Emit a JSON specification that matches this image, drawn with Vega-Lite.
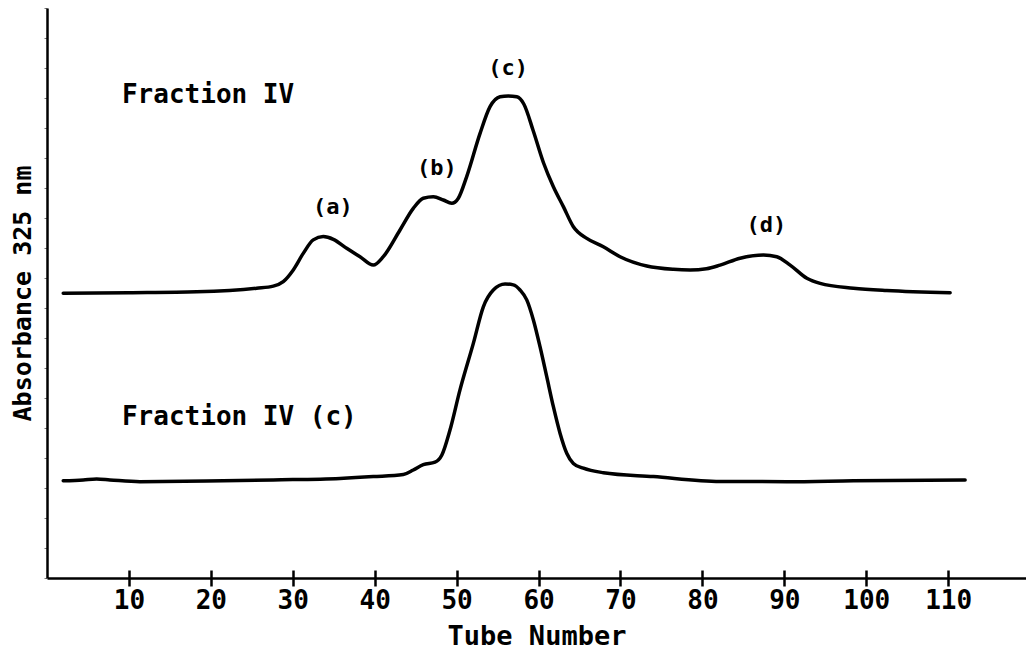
{
  "$schema": "https://vega.github.io/schema/vega-lite/v6.json",
  "width": 979,
  "height": 570,
  "autosize": {"type": "none"},
  "padding": {"left": 47, "top": 8, "right": 0, "bottom": 74},
  "background": "white",
  "config": {
    "view": {"stroke": null},
    "font": "DejaVu Sans Mono",
    "axis": {"grid": false, "domainColor": "black", "tickColor": "black", "labelColor": "black", "titleColor": "black"}
  },
  "datasets": {
    "curves": [
      {"sample": "Fraction IV", "tube": 1.98, "absorbance": 0.949},
      {"sample": "Fraction IV", "tube": 10, "absorbance": 0.951},
      {"sample": "Fraction IV", "tube": 18.27, "absorbance": 0.954},
      {"sample": "Fraction IV", "tube": 25.59, "absorbance": 0.966},
      {"sample": "Fraction IV", "tube": 27.62, "absorbance": 0.973},
      {"sample": "Fraction IV", "tube": 28.84, "absorbance": 0.988},
      {"sample": "Fraction IV", "tube": 30.06, "absorbance": 1.027},
      {"sample": "Fraction IV", "tube": 31.28, "absorbance": 1.082},
      {"sample": "Fraction IV", "tube": 32.5, "absorbance": 1.127},
      {"sample": "Fraction IV", "tube": 33.72, "absorbance": 1.138},
      {"sample": "Fraction IV", "tube": 34.95, "absorbance": 1.129},
      {"sample": "Fraction IV", "tube": 36.58, "absorbance": 1.099},
      {"sample": "Fraction IV", "tube": 38.21, "absorbance": 1.071},
      {"sample": "Fraction IV", "tube": 39.83, "absorbance": 1.043},
      {"sample": "Fraction IV", "tube": 41.05, "absorbance": 1.071},
      {"sample": "Fraction IV", "tube": 43.09, "absorbance": 1.16},
      {"sample": "Fraction IV", "tube": 44.71, "absorbance": 1.232},
      {"sample": "Fraction IV", "tube": 45.93, "absorbance": 1.266},
      {"sample": "Fraction IV", "tube": 47.16, "absorbance": 1.271},
      {"sample": "Fraction IV", "tube": 48.38, "absorbance": 1.26},
      {"sample": "Fraction IV", "tube": 49.4, "absorbance": 1.249},
      {"sample": "Fraction IV", "tube": 50.21, "absorbance": 1.266},
      {"sample": "Fraction IV", "tube": 51.23, "absorbance": 1.338},
      {"sample": "Fraction IV", "tube": 52.86, "absorbance": 1.482},
      {"sample": "Fraction IV", "tube": 54.08, "absorbance": 1.571},
      {"sample": "Fraction IV", "tube": 55.3, "absorbance": 1.604},
      {"sample": "Fraction IV", "tube": 56.3, "absorbance": 1.607},
      {"sample": "Fraction IV", "tube": 57.34, "absorbance": 1.604},
      {"sample": "Fraction IV", "tube": 58.2, "absorbance": 1.58},
      {"sample": "Fraction IV", "tube": 59.36, "absorbance": 1.49},
      {"sample": "Fraction IV", "tube": 60.59, "absorbance": 1.385},
      {"sample": "Fraction IV", "tube": 61.81, "absorbance": 1.304},
      {"sample": "Fraction IV", "tube": 63.03, "absorbance": 1.238},
      {"sample": "Fraction IV", "tube": 64.25, "absorbance": 1.171},
      {"sample": "Fraction IV", "tube": 65.89, "absorbance": 1.132},
      {"sample": "Fraction IV", "tube": 67.91, "absorbance": 1.104},
      {"sample": "Fraction IV", "tube": 69.95, "absorbance": 1.071},
      {"sample": "Fraction IV", "tube": 73.21, "absorbance": 1.04},
      {"sample": "Fraction IV", "tube": 76.46, "absorbance": 1.029},
      {"sample": "Fraction IV", "tube": 78.5, "absorbance": 1.027},
      {"sample": "Fraction IV", "tube": 80.5, "absorbance": 1.031},
      {"sample": "Fraction IV", "tube": 82.16, "absorbance": 1.043},
      {"sample": "Fraction IV", "tube": 84.6, "absorbance": 1.066},
      {"sample": "Fraction IV", "tube": 87.45, "absorbance": 1.077},
      {"sample": "Fraction IV", "tube": 89.08, "absorbance": 1.071},
      {"sample": "Fraction IV", "tube": 90.71, "absorbance": 1.043},
      {"sample": "Fraction IV", "tube": 92.75, "absorbance": 0.999},
      {"sample": "Fraction IV", "tube": 94.37, "absorbance": 0.982},
      {"sample": "Fraction IV", "tube": 98.44, "absorbance": 0.966},
      {"sample": "Fraction IV", "tube": 102.5, "absorbance": 0.958},
      {"sample": "Fraction IV", "tube": 110.24, "absorbance": 0.951},
      {"sample": "Fraction IV (c)", "tube": 1.98, "absorbance": 0.324},
      {"sample": "Fraction IV (c)", "tube": 4.42, "absorbance": 0.327},
      {"sample": "Fraction IV (c)", "tube": 6.06, "absorbance": 0.33},
      {"sample": "Fraction IV (c)", "tube": 7.68, "absorbance": 0.327},
      {"sample": "Fraction IV (c)", "tube": 11.34, "absorbance": 0.321},
      {"sample": "Fraction IV (c)", "tube": 19.49, "absorbance": 0.323},
      {"sample": "Fraction IV (c)", "tube": 27.62, "absorbance": 0.327},
      {"sample": "Fraction IV (c)", "tube": 35.76, "absorbance": 0.332},
      {"sample": "Fraction IV (c)", "tube": 39.83, "absorbance": 0.338},
      {"sample": "Fraction IV (c)", "tube": 43.49, "absorbance": 0.345},
      {"sample": "Fraction IV (c)", "tube": 44.71, "absorbance": 0.36},
      {"sample": "Fraction IV (c)", "tube": 45.93, "absorbance": 0.378},
      {"sample": "Fraction IV (c)", "tube": 47.36, "absorbance": 0.386},
      {"sample": "Fraction IV (c)", "tube": 48.2, "absorbance": 0.41},
      {"sample": "Fraction IV (c)", "tube": 49.19, "absorbance": 0.493},
      {"sample": "Fraction IV (c)", "tube": 50.41, "absorbance": 0.627},
      {"sample": "Fraction IV (c)", "tube": 52.04, "absorbance": 0.782},
      {"sample": "Fraction IV (c)", "tube": 53.26, "absorbance": 0.904},
      {"sample": "Fraction IV (c)", "tube": 54.48, "absorbance": 0.96},
      {"sample": "Fraction IV (c)", "tube": 55.91, "absorbance": 0.98},
      {"sample": "Fraction IV (c)", "tube": 56.92, "absorbance": 0.977},
      {"sample": "Fraction IV (c)", "tube": 57.74, "absorbance": 0.96},
      {"sample": "Fraction IV (c)", "tube": 58.56, "absorbance": 0.927},
      {"sample": "Fraction IV (c)", "tube": 59.36, "absorbance": 0.861},
      {"sample": "Fraction IV (c)", "tube": 60.18, "absorbance": 0.771},
      {"sample": "Fraction IV (c)", "tube": 61.0, "absorbance": 0.671},
      {"sample": "Fraction IV (c)", "tube": 61.81, "absorbance": 0.571},
      {"sample": "Fraction IV (c)", "tube": 62.63, "absorbance": 0.482},
      {"sample": "Fraction IV (c)", "tube": 63.44, "absorbance": 0.416},
      {"sample": "Fraction IV (c)", "tube": 64.25, "absorbance": 0.382},
      {"sample": "Fraction IV (c)", "tube": 65.47, "absorbance": 0.366},
      {"sample": "Fraction IV (c)", "tube": 67.91, "absorbance": 0.351},
      {"sample": "Fraction IV (c)", "tube": 74.02, "absorbance": 0.338},
      {"sample": "Fraction IV (c)", "tube": 82.16, "absorbance": 0.322},
      {"sample": "Fraction IV (c)", "tube": 90.3, "absorbance": 0.321},
      {"sample": "Fraction IV (c)", "tube": 98.44, "absorbance": 0.324},
      {"sample": "Fraction IV (c)", "tube": 112.07, "absorbance": 0.327}
    ],
    "labels": [
      {"kind": "title", "text": "Fraction IV", "tube": 9.15, "absorbance": 1.61},
      {"kind": "title", "text": "Fraction IV (c)", "tube": 9.15, "absorbance": 0.537},
      {"kind": "peak", "text": "(a)", "tube": 34.9, "absorbance": 1.237},
      {"kind": "peak", "text": "(b)", "tube": 47.6, "absorbance": 1.367},
      {"kind": "peak", "text": "(c)", "tube": 56.3, "absorbance": 1.7},
      {"kind": "peak", "text": "(d)", "tube": 87.8, "absorbance": 1.177}
    ]
  },
  "resolve": {"axis": {"x": "independent"}},
  "layer": [
    {
      "data": {"name": "curves"},
      "mark": {"type": "line", "interpolate": "monotone", "color": "black", "strokeWidth": 3.5, "strokeCap": "round", "strokeJoin": "round"},
      "encoding": {
        "x": {
          "field": "tube", "type": "quantitative",
          "scale": {"domain": [0, 119.5], "nice": false, "zero": false},
          "axis": {
            "orient": "bottom",
            "values": [10, 20, 30, 40, 50, 60, 70, 80, 90, 100, 110],
            "domainWidth": 2.5, "tickWidth": 2.5, "tickSize": 8,
            "labelFont": "DejaVu Sans Mono", "labelFontWeight": "bold", "labelFontSize": 26, "labelPadding": 1,
            "title": "Tube Number", "titleFont": "DejaVu Sans Mono", "titleFontWeight": "bold", "titleFontSize": 27, "titlePadding": 10
          }
        },
        "y": {
          "field": "absorbance", "type": "quantitative",
          "scale": {"domain": [0, 1.9], "nice": false},
          "axis": {
            "labels": false, "tickCount": 19, "tickSize": 3, "tickWidth": 1, "tickColor": "#777",
            "domainWidth": 2.5,
            "title": "Absorbance 325 nm", "titleFont": "DejaVu Sans Mono", "titleFontWeight": "bold", "titleFontSize": 25, "titlePadding": 8
          }
        },
        "detail": {"field": "sample", "type": "nominal"}
      }
    },
    {
      "data": {"name": "labels"},
      "transform": [{"filter": "datum.kind === 'title'"}],
      "mark": {"type": "text", "align": "left", "baseline": "middle", "font": "DejaVu Sans Mono", "fontWeight": "bold", "fontSize": 26, "color": "black"},
      "encoding": {
        "x": {
          "field": "tube", "type": "quantitative",
          "axis": {
            "orient": "bottom", "values": [10, 20, 30, 40, 50, 60, 70, 80, 90, 100, 110],
            "domain": false, "labels": false, "title": null, "tickSize": 8, "tickWidth": 2.5, "offset": -8
          }
        },
        "y": {"field": "absorbance", "type": "quantitative"},
        "text": {"field": "text"}
      }
    },
    {
      "data": {"name": "labels"},
      "transform": [{"filter": "datum.kind === 'peak'"}],
      "mark": {"type": "text", "align": "center", "baseline": "middle", "font": "DejaVu Sans Mono", "fontWeight": "bold", "fontSize": 22, "color": "black"},
      "encoding": {
        "x": {"field": "tube", "type": "quantitative", "axis": null},
        "y": {"field": "absorbance", "type": "quantitative"},
        "text": {"field": "text"}
      }
    }
  ]
}
